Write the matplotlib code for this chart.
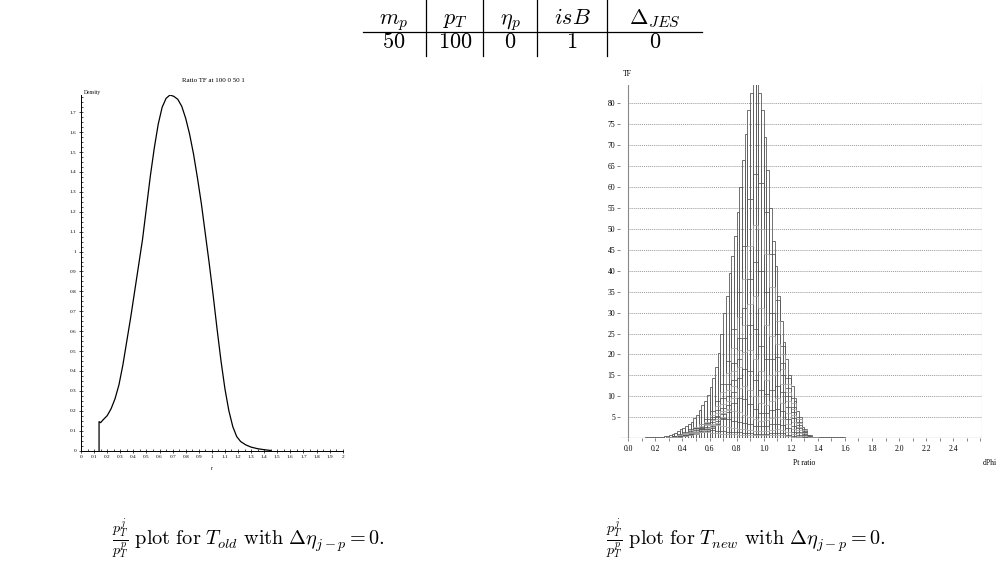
import numpy as np
import matplotlib
matplotlib.use("Agg")
import matplotlib.pyplot as plt
from matplotlib.lines import Line2D
from matplotlib.ticker import MultipleLocator, FormatStrFormatter, FuncFormatter

plt.rcParams['mathtext.fontset'] = 'cm'
SERIF = 'Liberation Serif'

# ---------------- data ----------------
# table
table_headers = [r'$m_p$', r'$p_T$', r'$\eta_p$', r'$isB$', r'$\Delta_{JES}$']
table_values = ['$50$', '$100$', '$0$', '$1$', '$0$']

# left plot: density curve of the pT ratio (T_old)
old_r = [0.138, 0.138, 0.15, 0.17, 0.20, 0.23, 0.26, 0.29, 0.32, 0.35, 0.38, 0.41,
         0.44, 0.47, 0.50, 0.53, 0.56, 0.59, 0.62, 0.65, 0.68, 0.71, 0.74, 0.77,
         0.80, 0.83, 0.86, 0.89, 0.92, 0.95, 0.98, 1.01, 1.04, 1.07, 1.10, 1.13,
         1.16, 1.19, 1.22, 1.26, 1.30, 1.35, 1.40, 1.45]
old_density = [0.0, 0.145, 0.14, 0.155, 0.175, 0.21, 0.26, 0.33, 0.43, 0.55, 0.67, 0.80,
               0.93, 1.06, 1.22, 1.38, 1.52, 1.64, 1.725, 1.77, 1.787, 1.78, 1.765, 1.73,
               1.67, 1.59, 1.49, 1.37, 1.24, 1.09, 0.94, 0.78, 0.61, 0.45, 0.31, 0.20,
               0.12, 0.07, 0.045, 0.028, 0.017, 0.009, 0.004, 0.0]

# right plot: TF histogram (outer envelope, bins of 0.02 starting at 0.12)
tf_bin_start = 0.12
tf_bin_width = 0.02
tf_envelope = [0.3, 0.3, 0.3, 0.3, 0.35, 0.4, 0.4, 0.5, 0.6, 0.8, 1.0, 1.3, 1.7,
               2.1, 2.5, 2.9, 3.3, 4.0, 4.8, 5.6, 6.8, 8.0, 8.9, 10.3,
               12.3, 14.3, 17.0, 20.3, 25, 30, 34, 39.4, 43.4, 48.2, 54,
               60, 66.5, 72.5, 78.4, 82.4, 86, 86, 82.4, 78.4, 72, 64,
               55, 47, 41, 34, 28, 23, 19, 15, 12.5, 9, 6.5,
               4.5, 2.8, 1.5, 0.8, 0.5, 0.35,
               0.3, 0.3, 0.3, 0.3, 0.3, 0.3, 0.3, 0.3, 0.3, 0.3, 0.3]

# inner dPhi slices (bins of 0.04 starting at 0.28)
slice_bin_start = 0.28
slice_bin_width = 0.04
tf_slice_1 = [0.3, 0.5, 0.9, 1.3, 1.7, 2.4, 3.4, 4.6, 6.5, 9, 13, 18.5, 26, 35, 46, 57, 63, 61,
              54, 44, 33, 22, 14.5, 9.5, 5, 2.2, 0.7, 0.25]
tf_slice_2 = [0.3, 0.5, 0.8, 1.2, 1.6, 2.2, 3.0, 4.0, 5.6, 7.8, 11, 15.5, 21.5, 29, 38, 46, 51, 50,
              44, 36, 28, 20, 13, 8.5, 4.5, 2, 0.6, 0.2]
tf_slice_3 = [0.25, 0.45, 0.7, 1.1, 1.5, 2.0, 2.7, 3.6, 5, 6.8, 9.5, 13, 18, 24, 31, 38, 42, 40,
              35, 30, 25, 18, 12, 7.5, 4, 1.8, 0.5, 0.2]
tf_slice_4 = [0.2, 0.4, 0.65, 1, 1.4, 1.8, 2.4, 3.2, 4.4, 6, 8.3, 11.5, 16, 21, 27, 32, 34, 31,
              27, 24.5, 22.5, 16.5, 11, 7, 3.6, 1.6, 0.5, 0.2]
tf_slice_5 = [0.2, 0.35, 0.6, 0.9, 1.2, 1.6, 2.1, 2.8, 3.8, 5.3, 7.3, 10, 14, 19, 24, 27, 26, 22,
              19, 19, 19.5, 15, 10, 6.3, 3.2, 1.4, 0.45, 0.15]
tf_slice_6 = [0.2, 0.3, 0.5, 0.8, 1.1, 1.4, 1.9, 2.5, 3.4, 4.7, 6.5, 9, 12.5, 17, 20.5, 21, 19, 16,
              14, 15, 16, 13, 8.8, 5.5, 2.8, 1.2, 0.4, 0.15]
tf_slice_7 = [0.15, 0.3, 0.45, 0.7, 1, 1.3, 1.7, 2.2, 3, 4.2, 5.8, 8, 11, 14.5, 16.5, 16, 14, 11.5,
              10.5, 11.5, 12.5, 11, 7.5, 4.8, 2.4, 1.1, 0.35, 0.1]
tf_slice_8 = [0.15, 0.25, 0.4, 0.6, 0.9, 1.2, 1.5, 2, 2.7, 3.7, 5.2, 7, 9.5, 12, 12.5, 11.5, 10, 8.5,
              8, 9, 9.5, 8.5, 6, 3.9, 2, 0.9, 0.3, 0.1]
tf_slice_9 = [0.15, 0.25, 0.4, 0.55, 0.8, 1.1, 1.4, 1.8, 2.5, 3.4, 4.6, 6.3, 8.5, 9.5, 9.3, 8.3, 7, 6,
              6, 6.8, 7, 6.4, 4.6, 3, 1.6, 0.7, 0.25, 0.1]
tf_slice_10 = [0.15, 0.25, 0.4, 0.55, 0.8, 1.1, 1.5, 2.1, 3.2, 4.5, 6, 6.8, 6.6, 6.2, 5.6, 5, 4.5, 4.2,
               4.3, 4.8, 5, 4.6, 3.4, 2.2, 1.2, 0.55, 0.2, 0.1]
tf_slice_11 = [0.15, 0.25, 0.45, 0.7, 1.1, 1.6, 2.3, 3.3, 4.5, 5, 4.8, 4.5, 4.2, 3.9, 3.6, 3.3, 3, 2.9,
               3, 3.3, 3.5, 3.2, 2.4, 1.6, 0.9, 0.4, 0.15, 0.05]
tf_slice_12 = [0.2, 0.4, 0.7, 1.2, 1.9, 2.7, 3.3, 3.5, 3.3, 3.1, 2.9, 2.7, 2.5, 2.3, 2.1, 1.9, 1.8, 1.7,
               1.8, 2, 2.1, 1.9, 1.5, 1, 0.6, 0.3, 0.1, 0.05]
tf_slice_13 = [0.3, 0.6, 1, 1.6, 2.1, 2.4, 2.4, 2.2, 2, 1.8, 1.7, 1.6, 1.5, 1.4, 1.3, 1.2, 1.1, 1.1,
               1.1, 1.2, 1.3, 1.2, 0.9, 0.6, 0.4, 0.2, 0.08, 0.03]
tf_slice_14 = [0.2, 0.4, 0.7, 1.0, 1.3, 1.5, 1.5, 1.4, 1.3, 1.2, 1.1, 1.0, 0.95, 0.9, 0.85, 0.8, 0.75, 0.7,
               0.7, 0.75, 0.8, 0.75, 0.6, 0.4, 0.25, 0.12, 0.05, 0.02]
tf_slices = [tf_slice_1, tf_slice_2, tf_slice_3, tf_slice_4, tf_slice_5, tf_slice_6, tf_slice_7,
             tf_slice_8, tf_slice_9, tf_slice_10, tf_slice_11, tf_slice_12, tf_slice_13, tf_slice_14]

right_yticks = [5, 10, 15, 20, 25, 30, 35, 40, 45, 50, 55, 60, 65, 70, 75, 80]

caption_left = r'$\frac{p_T^j}{p_T^p}\ \mathrm{plot\ for}\ T_{old}\ \mathrm{with}\ \Delta\eta_{j-p} = 0.$'
caption_right = r'$\frac{p_T^j}{p_T^p}\ \mathrm{plot\ for}\ T_{new}\ \mathrm{with}\ \Delta\eta_{j-p} = 0.$'

# ---------------- figure ----------------
W, H = 1005, 563
fig = plt.figure(figsize=(W / 100, H / 100), dpi=100)
fig.patch.set_facecolor('white')


def fx(x):
    return x / W


def fy(y):
    return 1 - y / H


# ---- table ----
col_centers = [394, 455, 510, 572, 655]
for cx, h, v in zip(col_centers, table_headers, table_values):
    fig.text(fx(cx), fy(24), h, ha='center', va='baseline', fontsize=16)
    fig.text(fx(cx), fy(48), v, ha='center', va='baseline', fontsize=16)
fig.add_artist(Line2D([fx(363), fx(702)], [fy(32), fy(32)], color='black', lw=0.9))
for vx in [426, 483, 537, 607]:
    fig.add_artist(Line2D([fx(vx), fx(vx)], [fy(0), fy(56)], color='black', lw=0.9))

# ---- left plot ----
axL = fig.add_axes([fx(81), fy(450.5), (342.7 - 81) / W, (450.5 - 95) / H])
axL.plot(old_r, old_density, color='black', lw=0.9)
axL.set_xlim(0, 2)
axL.set_ylim(0, 1.787)
for s in ['top', 'right']:
    axL.spines[s].set_visible(False)
for s in ['left', 'bottom']:
    axL.spines[s].set_linewidth(0.7)
axL.xaxis.set_major_locator(MultipleLocator(0.1))
axL.xaxis.set_minor_locator(MultipleLocator(0.05))
axL.yaxis.set_major_locator(MultipleLocator(0.1))
axL.yaxis.set_minor_locator(MultipleLocator(0.025))
fmt = FuncFormatter(lambda v, p: ('%.1f' % v).rstrip('0').rstrip('.') if abs(v) > 1e-9 else '0')
axL.xaxis.set_major_formatter(fmt)
axL.yaxis.set_major_formatter(fmt)
axL.tick_params(which='major', direction='inout', length=3, width=0.5, labelsize=3.8, pad=2)
axL.tick_params(which='minor', direction='in', length=1.5, width=0.5)
for lab in axL.get_xticklabels() + axL.get_yticklabels():
    lab.set_family(SERIF)
fig.text(fx(213), fy(81), 'Ratio TF at 100 0 50 1', ha='center', va='center',
         fontsize=5, family=SERIF)
fig.text(fx(84), fy(92), 'Density', ha='left', va='center', fontsize=4, family=SERIF)
fig.text(fx(212), fy(468), 'r', ha='center', va='center', fontsize=4, family=SERIF)

# ---- right plot ----
x_left_lim = -0.06
x_right_lim = 2.61
axR = fig.add_axes([fx(620.2), fy(438.3), (981.7 - 620.2) / W, (438.3 - 85) / H])
axR.set_xlim(x_left_lim, x_right_lim)
axR.set_ylim(0, 84.3)
for s in axR.spines.values():
    s.set_visible(False)

# grid lines
for yv in right_yticks:
    axR.plot([0, x_right_lim], [yv, yv], color='#9a9a9a', lw=0.7, ls=(0, (1, 1)), zorder=1)
axR.plot([0, 0], [0, 84.3], color='#888888', lw=0.8, zorder=2)
axR.plot([x_right_lim, x_right_lim], [0, 84.3], color='#aaaaaa', lw=0.8, zorder=2)

env_edges = tf_bin_start + tf_bin_width * np.arange(len(tf_envelope))
axR.bar(env_edges, tf_envelope, width=tf_bin_width, align='edge', fill=False,
        edgecolor='#5a5a5a', linewidth=0.6, zorder=3)
slice_edges = slice_bin_start + slice_bin_width * np.arange(len(tf_slice_1) + 1)
slice_colors = ['#555555', '#a8a8a8']
for i, sv in enumerate(tf_slices):
    axR.stairs(sv, slice_edges, color=slice_colors[i % 2], lw=0.55, zorder=4)

axR.plot([x_left_lim, x_right_lim], [0, 0], color='#333333', lw=0.8, zorder=5)

axR.xaxis.set_major_locator(MultipleLocator(0.2))
axR.xaxis.set_minor_locator(MultipleLocator(0.1))
axR.xaxis.set_major_formatter(FormatStrFormatter('%.1f'))
axR.set_xticks([v for v in axR.get_xticks() if 0 <= v <= 2.45])
axR.set_yticks(right_yticks)
axR.tick_params(axis='x', which='both', direction='out', length=2.5, width=0.5,
                labelsize=5.5, pad=2.5, color='#555555')
axR.tick_params(axis='y', which='both', direction='out', length=2, width=0.5,
                labelsize=5.5, pad=1.5, color='#555555')
for lab in axR.get_xticklabels() + axR.get_yticklabels():
    lab.set_family(SERIF)
fig.text(fx(623), fy(74), 'TF', ha='left', va='center', fontsize=5.5, family=SERIF)
fig.text(fx(804), fy(463), 'Pt ratio', ha='center', va='center', fontsize=5.5, family=SERIF)
fig.text(fx(990), fy(463), 'dPhi', ha='center', va='center', fontsize=5.5, family=SERIF)

# ---- captions ----
fig.text(fx(112), fy(546), caption_left, ha='left', va='baseline', fontsize=14.6)
fig.text(fx(606), fy(546), caption_right, ha='left', va='baseline', fontsize=14.6)

fig.savefig('out.png', dpi=100, facecolor='white')
